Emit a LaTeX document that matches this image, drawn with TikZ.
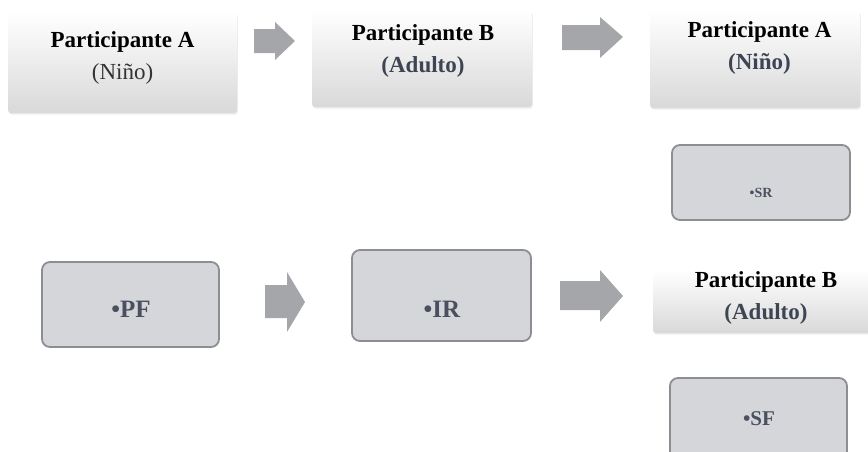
\documentclass[tikz,border=0pt]{standalone}
\usepackage{fontspec}
\setmainfont{Liberation Serif}
\usetikzlibrary{shadows}

\definecolor{boxfill}{HTML}{D4D6D9}
\definecolor{boxline}{HTML}{8C8E92}
\definecolor{arrfill}{HTML}{A5A6AA}
\definecolor{subtext}{HTML}{3D4454}
\definecolor{lbltext}{HTML}{4A5060}

\begin{document}
\begin{tikzpicture}[x=0.5pt,y=-0.5pt,
  hdrbox/.style={rectangle,rounded corners=1.5pt,top color=white,middle color=black!2,bottom color=black!15,
    draw=none,drop shadow={shadow xshift=0.4pt,shadow yshift=-0.8pt,opacity=0.15}},
  hdrtxt/.style={align=center,font=\fontsize{11.5}{16}\selectfont\bfseries},
  gbox/.style={rectangle,rounded corners=4pt,fill=boxfill,draw=boxline,line width=0.9pt},
  gtxt/.style={font=\fontsize{12.5}{14}\selectfont\bfseries,text=lbltext},
  blockarr/.style={fill=arrfill}]
  \useasboundingbox (0,0) rectangle (868,451);

  \node[hdrbox,minimum width=114.5pt,minimum height=50.5pt] (hdrA) at (122.5,62.5) {};
  \node[hdrtxt] (hdrAtxt) at (122.5,57.5) {Participante A\\{\mdseries\color{black!80}(Niño)}};

  \node[hdrbox,minimum width=110pt,minimum height=48.5pt] (hdrB) at (422,58.5) {};
  \node[hdrtxt] (hdrBtxt) at (423,50.5) {Participante B\\{\color{subtext}(Adulto)}};

  \node[hdrbox,minimum width=105pt,minimum height=49pt] (hdrA2) at (755,59) {};
  \node[hdrtxt] (hdrA2txt) at (759.5,47.5) {Participante A\\{\color{subtext}(Niño)}};

  \node[hdrbox,minimum width=113.5pt,minimum height=31.5pt] (hdrB2) at (766.5,301.5) {};
  \node[hdrtxt] (hdrB2txt) at (766,297.5) {Participante B\\{\color{subtext}(Adulto)}};

  \node[gbox,minimum width=88.5pt,minimum height=42.5pt] (PF) at (130.5,304.5) {};
  \node[gtxt] (PFlbl) at (131,309) {•PF};

  \node[gbox,minimum width=89.5pt,minimum height=45.5pt] (IR) at (441.5,295.5) {};
  \node[gtxt] (IRlbl) at (442,309) {•IR};

  \node[gbox,minimum width=89pt,minimum height=37.5pt] (SR) at (761,182.5) {};
  \node[gtxt,font=\fontsize{7}{9}\selectfont\bfseries] (SRlbl) at (761,193) {•SR};

  \node[gbox,minimum width=88.5pt,minimum height=42pt] (SF) at (758.5,420) {};
  \node[gtxt,font=\fontsize{10.5}{12}\selectfont\bfseries] (SFlbl) at (759,419) {•SF};

  \fill[blockarr] (254,29) -- (275,29) -- (275,22) -- (295,41) -- (275,60) -- (275,53) -- (254,53) -- cycle;
  \fill[blockarr] (562,25) -- (600,25) -- (600,17) -- (623,37) -- (600,58) -- (600,50) -- (562,50) -- cycle;
  \fill[blockarr] (265,285) -- (287,285) -- (287,272) -- (305,302) -- (287,332) -- (287,318) -- (265,318) -- cycle;
  \fill[blockarr] (560,281) -- (600,281) -- (600,270) -- (623,296) -- (600,322) -- (600,310) -- (560,310) -- cycle;
\end{tikzpicture}
\end{document}
